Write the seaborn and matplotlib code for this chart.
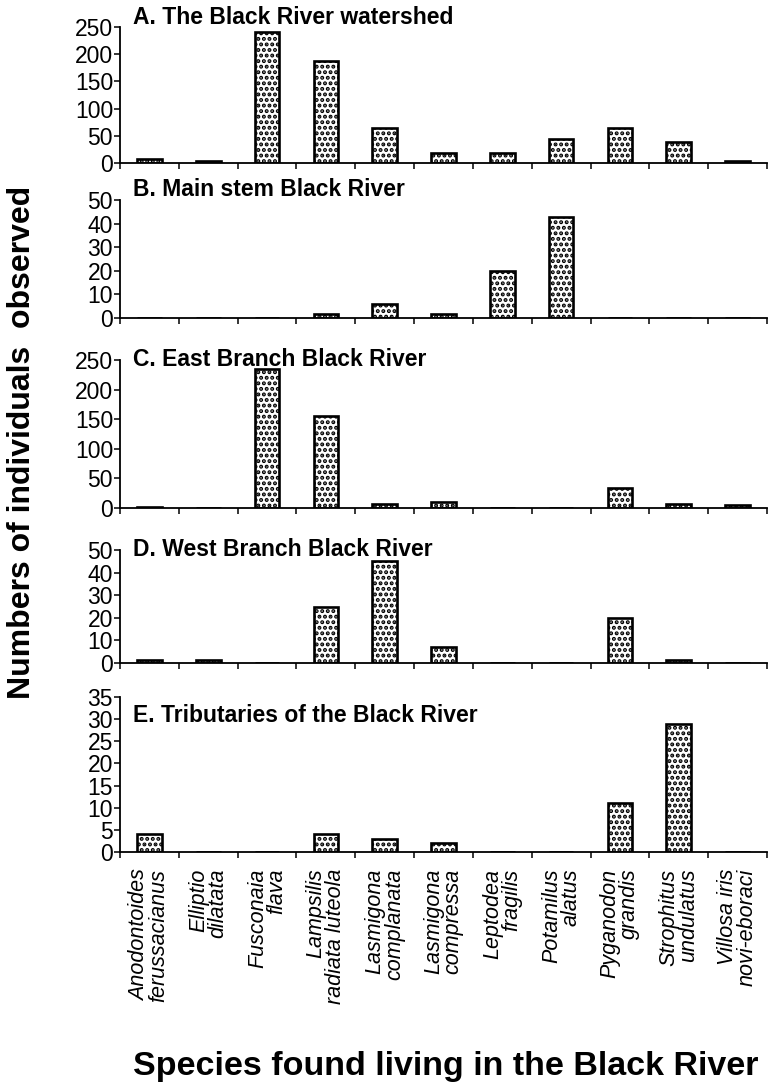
import matplotlib
matplotlib.use("Agg")
import matplotlib.pyplot as plt
import seaborn as sns
import pandas as pd
import numpy as np

# species (x categories), same order in every panel
species = [
    "Anodontoides\nferussacianus", "Elliptio\ndilatata", "Fusconaia\nflava",
    "Lampsilis\nradiata luteola", "Lasmigona\ncomplanata", "Lasmigona\ncompressa",
    "Leptodea\nfragilis", "Potamilus\nalatus", "Pyganodon\ngrandis",
    "Strophitus\nundulatus", "Villosa iris\nnovi-eboraci",
]

# counts
watershed = [7, 4, 240, 188, 64, 19, 19, 45, 64, 38, 4]
main_stem = [0, 0, 0, 1.5, 6, 1.5, 20, 43, 0, 0, 0]
east_branch = [1, 0, 234, 155, 7, 10, 0, 0, 33, 7, 5]
west_branch = [1.5, 1.5, 0, 25, 45, 7, 0, 0, 20, 1.5, 0]
tributaries = [4, 0, 0, 4, 3, 2, 0, 0, 11, 29, 0]

panel_titles = [
    "A. The Black River watershed",
    "B. Main stem Black River",
    "C. East Branch Black River",
    "D. West Branch Black River",
    "E. Tributaries of the Black River",
]
y_max = [250, 50, 250, 50, 35]
y_step = [50, 10, 50, 10, 5]

sns.set_style("ticks")
plt.rcParams["font.family"] = ["Liberation Sans", "DejaVu Sans"]
plt.rcParams["hatch.linewidth"] = 2.0
for k in ["text.color", "axes.labelcolor", "xtick.color", "ytick.color", "axes.edgecolor"]:
    plt.rcParams[k] = "black"

W, H = 769, 1089
fig = plt.figure(figsize=(W / 100, H / 100), dpi=100)

# axes boxes in pixels: (top, bottom), and title y in pixels
boxes = [(27, 163), (200, 318), (360, 508), (550, 663), (697, 852)]
title_y = [17, 190, 359, 550, 715]
x_left, x_right = 120, 767

series = [watershed, main_stem, east_branch, west_branch, tributaries]

for i, vals in enumerate(series):
    top, bot = boxes[i]
    ax = fig.add_axes([x_left / W, 1 - bot / H, (x_right - x_left) / W, (bot - top) / H])
    df = pd.DataFrame({"species": species, "count": vals})
    sns.barplot(data=df, x="species", y="count", ax=ax, color="white",
                edgecolor="black", linewidth=1.9, width=0.42, saturation=1)
    for p in ax.patches:
        p.set_hatch("...")
        p.set_facecolor("white")
        p.set_edgecolor("black")

    ax.set_xlim(-0.5, len(species) - 0.5)
    ax.set_ylim(0, y_max[i])
    ax.set_yticks(np.arange(0, y_max[i] + 1, y_step[i]))
    ax.tick_params(axis="y", labelsize=16.5, length=4, width=1.1, pad=1)
    ax.set_xticks(np.arange(-0.5, len(species), 1.0), minor=True)
    ax.tick_params(axis="x", which="minor", length=4, width=1.1)
    ax.tick_params(axis="x", which="major", length=0, pad=12)
    if i < len(series) - 1:
        ax.set_xticklabels([])
    else:
        ax.set_xticks(range(len(species)))
        ax.set_xticklabels(species, rotation=90, fontsize=15.5, style="italic",
                           ha="center", va="top", multialignment="right",
                           linespacing=0.9)
    ax.set_xlabel("")
    ax.set_ylabel("")
    for s in ["top", "right"]:
        ax.spines[s].set_visible(False)
    for s in ["left", "bottom"]:
        ax.spines[s].set_linewidth(1.3)
    fig.text(133 / W, 1 - title_y[i] / H, panel_titles[i], fontsize=16.5,
             fontweight="bold", ha="left", va="center")

fig.text(22 / W, 1 - 442 / H, "Numbers of individuals  observed", rotation=90,
         fontsize=23, fontweight="bold", ha="center", va="center")
fig.text(446 / W, 1 - 1067 / H, "Species found living in the Black River",
         fontsize=24.5, fontweight="bold", ha="center", va="center")

fig.savefig("out.png", dpi=100)
